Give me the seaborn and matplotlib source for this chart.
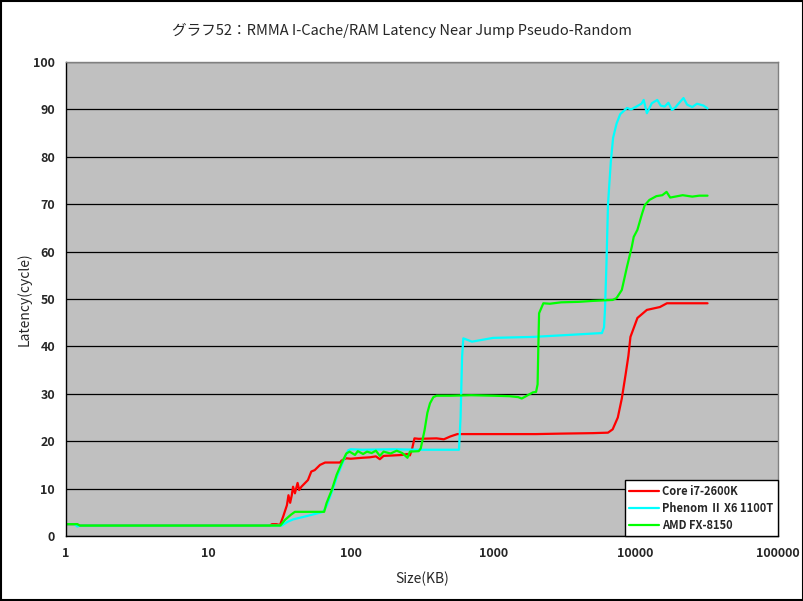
import matplotlib
matplotlib.use("Agg")
import matplotlib.pyplot as plt
import seaborn as sns
import pandas as pd

# ----------------------------
# Data (size in KB, latency in cycles)
# ----------------------------
SERIES = ["Core i7-2600K", "Phenom Ⅱ X6 1100T", "AMD FX-8150"]
COLORS = ["#FF0000", "#00FFFF", "#00FF00"]

core_size = [1, 1.18, 1.25, 2, 5, 10, 20, 27, 28, 30, 31.8, 33.5, 35.6, 36.5, 37.5,
             38.5, 39.3, 40.5, 42.3, 43.4, 45, 50, 52.8, 55.8, 60.8, 66, 84, 86, 93,
             100, 120, 136, 150, 160, 170, 200, 230, 250, 260, 270, 280, 300, 400,
             450, 500, 560, 700, 1000, 2000, 3000, 5000, 6400, 6900, 7500, 8000,
             8500, 8900, 9200, 10300, 12000, 14800, 16600, 20000, 32000]
core_lat = [2.5, 2.5, 2.2, 2.2, 2.2, 2.2, 2.2, 2.2, 2.5, 2.5, 2.3, 4.1, 6.5, 8.6, 7.0,
            8.6, 10.4, 9.0, 11.2, 9.7, 10.4, 11.8, 13.6, 13.9, 15.0, 15.5, 15.5, 15.9, 16.4,
            16.3, 16.5, 16.6, 16.8, 16.2, 16.9, 17.0, 17.1, 17.3, 17.0, 18.5, 20.6, 20.5, 20.6,
            20.4, 21.0, 21.5, 21.5, 21.5, 21.5, 21.6, 21.7, 21.8, 22.5, 25.0, 29.0,
            34.0, 38.0, 42.0, 46.0, 47.7, 48.3, 49.1, 49.1, 49.1]

phenom_size = [1, 1.15, 1.2, 1.25, 10, 30, 32.7, 36, 39.3, 49, 64, 68, 74, 80, 87, 92, 96,
               100, 120, 200, 300, 400, 575, 590, 605, 617, 710, 1000, 1900, 3300, 5650,
               5800, 6000, 6100, 6250, 6400, 6700, 6950, 7350, 7800, 8700, 9300, 10000,
               11000, 11400, 12000, 13000, 14200, 15000, 16000, 17000, 18000, 19000,
               20000, 21700, 23000, 25000, 27000, 30000, 32000]
phenom_lat = [2.5, 2.5, 2.0, 2.2, 2.2, 2.2, 2.2, 3.0, 3.5, 4.2, 5.1, 6.5, 9.5, 12.5, 15.2, 17.0, 18.1,
              18.3, 18.2, 18.3, 18.2, 18.2, 18.2, 25.0, 38.0, 41.7, 41.0, 41.8, 42.0, 42.4, 42.8,
              42.8, 44.0, 48.0, 58.0, 70.0, 79.0, 84.0, 87.0, 89.0, 90.3, 90.0, 90.5,
              91.2, 92.0, 89.2, 91.3, 92.0, 90.8, 90.6, 91.4, 89.9, 90.4,
              91.2, 92.4, 91.0, 90.5, 91.2, 90.8, 90.2]

fx_size = [1, 1.2, 1.25, 10, 32, 34.5, 38, 40.5, 50, 65, 67.5, 73.5, 79.5, 86, 93, 98, 107,
           112, 122, 130, 140, 150, 160, 170, 190, 210, 230, 250, 260, 300, 310, 330, 345,
           360, 380, 400, 500, 700, 1000, 1300, 1500, 1585, 1700, 1900, 2000, 2050, 2075,
           2100, 2250, 2500, 3000, 4000, 5000, 6900, 7350, 8000, 8700, 9400, 9700, 10300,
           11100, 11600, 12500, 14000, 15400, 16500, 17500, 21400, 25000, 28000, 32000]
fx_lat = [2.5, 2.5, 2.2, 2.2, 2.2, 3.4, 4.5, 5.1, 5.1, 5.1, 6.9, 9.7, 12.9, 15.3, 17.4, 17.8, 17.1,
          17.9, 17.3, 17.8, 17.5, 18.0, 16.9, 17.8, 17.4, 18.0, 17.5, 16.5, 17.8, 17.9, 18.5, 22.4, 26.0,
          28.0, 29.3, 29.6, 29.6, 29.7, 29.6, 29.5, 29.3, 29.0, 29.5, 30.3, 30.4, 32.0, 40.0,
          47.0, 49.1, 49.0, 49.3, 49.4, 49.6, 49.8, 50.2, 51.9, 56.8, 61.0, 63.1, 64.6,
          68.0, 69.8, 70.9, 71.7, 71.9, 72.6, 71.4, 71.9, 71.6, 71.8, 71.8]

Y_TICKS = list(range(0, 101, 10))
X_TICKS = [1, 10, 100, 1000, 10000, 100000]
X_TICKLABELS = ["1", "10", "100", "1000", "10000", "100000"]

df = pd.concat([
    pd.DataFrame({"size": core_size, "latency": core_lat, "cpu": SERIES[0]}),
    pd.DataFrame({"size": phenom_size, "latency": phenom_lat, "cpu": SERIES[1]}),
    pd.DataFrame({"size": fx_size, "latency": fx_lat, "cpu": SERIES[2]}),
], ignore_index=True)

sns.set_style("white")
plt.rcParams['font.family'] = ['Noto Sans CJK JP', 'DejaVu Sans']

fig = plt.figure(figsize=(8.04, 6.01), dpi=100)
ax = fig.add_axes([66 / 804, 65 / 601, 712 / 804, 474 / 601])

sns.lineplot(
    data=df, x="size", y="latency", hue="cpu", hue_order=SERIES,
    palette=COLORS, estimator=None, sort=False, linewidth=1.6, ax=ax
)

ax.set_xscale("log")
ax.set_xlim(1, 100000)
ax.set_ylim(0, 100)
ax.set_facecolor("#C0C0C0")
for s in ax.spines.values():
    s.set_color("#808080")
    s.set_linewidth(1.0)
ax.spines["bottom"].set_color("black")
ax.spines["left"].set_color("black")

ax.set_yticks(Y_TICKS)
ax.set_xticks(X_TICKS)
ax.set_xticklabels(X_TICKLABELS)
ax.xaxis.set_minor_locator(matplotlib.ticker.NullLocator())
ax.yaxis.grid(True, color="black", linewidth=0.9)
ax.xaxis.grid(False)
ax.set_axisbelow(True)
ax.tick_params(axis="x", direction="in", length=4, width=1, color="black",
               labelsize=9, pad=8)
ax.tick_params(axis="y", length=0, labelsize=9, pad=8)
for lab in ax.get_xticklabels() + ax.get_yticklabels():
    lab.set_fontweight("bold")

ax.set_xlabel("Size(KB)", fontsize=10, labelpad=8)
ax.set_ylabel("Latency(cycle)", fontsize=10)
ax.yaxis.set_label_coords(-0.048, 0.5)
fig.suptitle("グラフ52：RMMA I-Cache/RAM Latency Near Jump Pseudo-Random",
             fontsize=10.5, y=0.962)

leg = ax.legend(loc="lower right", fontsize=8, frameon=True, fancybox=False,
                borderaxespad=0, handlelength=2.7, handletextpad=0.3,
                labelspacing=0.35, borderpad=0.4)
leg.get_frame().set_edgecolor("black")
leg.get_frame().set_facecolor("white")
leg.get_frame().set_alpha(1)
leg.get_frame().set_linewidth(1.0)
for t in leg.get_texts():
    t.set_fontweight("bold")

fig.patches.append(plt.Rectangle((0.001, 0.001), 0.998, 0.997, transform=fig.transFigure,
                                 fill=False, edgecolor="black", linewidth=1.5))

fig.savefig("out.png", dpi=100)
